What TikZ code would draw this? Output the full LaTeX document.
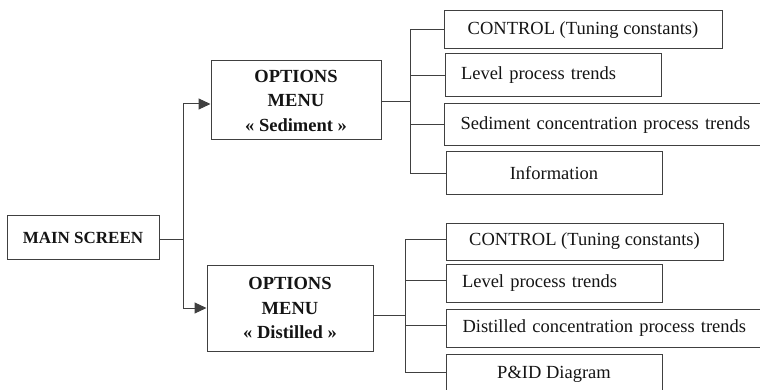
\documentclass[tikz,border=0pt]{standalone}
\usepackage{fontspec}
\setmainfont{Liberation Serif}
\usetikzlibrary{arrows.meta,calc}
\begin{document}
\begin{tikzpicture}[x=1pt,y=-1pt,
  box/.style={draw=black!75,line width=1pt,rectangle,inner sep=0pt,text=black!92,
    font=\fontsize{18.5}{21}\selectfont},
  lbox/.style={box,align=left,inner xsep=16pt},
  bbox/.style={box,align=center,font=\fontsize{18.5}{24.5}\selectfont\bfseries},
  conn/.style={draw=black!75,line width=1pt},
  arr/.style={conn,-{Triangle[length=12pt,width=11pt]}}]
\useasboundingbox (0,0) rectangle (760,390);
% main
\node[box,minimum width=152pt,minimum height=43pt,font=\fontsize{17}{20}\selectfont\bfseries] (main) at (83,237.5) {MAIN SCREEN};
\node[bbox,minimum width=170pt,minimum height=79pt] (sed) at (296,100.5) {OPTIONS\\MENU\\« Sediment »};
\node[bbox,minimum width=166pt,minimum height=86pt] (dist) at (290,308) {OPTIONS\\MENU\\« Distilled »};
% top group
\node[box,minimum width=278pt,minimum height=38pt] (t1) at (583,30) {CONTROL (Tuning constants)};
\node[lbox,text width=184pt,minimum height=43pt] (t2) at (553,75.5) {Level process trends};
\node[lbox,text width=320pt,minimum height=42pt,anchor=west] (t3) at (444,125) {Sediment concentration process trends};
\node[box,minimum width=216pt,minimum height=43pt] (t4) at (554,173.5) {Information};
% bottom group
\node[box,minimum width=277pt,minimum height=37pt] (b1) at (584.5,241.5) {CONTROL (Tuning constants)};
\node[lbox,text width=184pt,minimum height=38pt] (b2) at (554,283) {Level process trends};
\node[lbox,text width=320pt,minimum height=38pt,anchor=west] (b3) at (446,328) {Distilled concentration process trends};
\node[box,minimum width=216pt,minimum height=41pt] (b4) at (554,374.5) {P\&ID Diagram};
% junctions
\coordinate (jm) at (183,239);
\coordinate (js) at (410,102);
\coordinate (jd) at (405,315);
\draw[conn] (main.east |- jm) -- (jm);
\draw[arr] (jm) |- ([yshift=-3.5pt]sed.west);
\draw[arr] (jm) |- (dist.west);
% sediment fan
\draw[conn] (sed.east |- js) -- (js);
\draw[conn] (js |- t1.west) -- (js |- t4.west);
\foreach \n in {t1,t2,t3,t4} \draw[conn] (js |- \n.west) -- (\n.west);
% distilled fan
\draw[conn] (dist.east |- jd) -- (jd);
\draw[conn] ([yshift=2.5pt]jd |- b1.west) -- ([yshift=2.5pt]jd |- b4.west);
\foreach \n in {b1,b2,b3,b4} \draw[conn] ([yshift=2.5pt]jd |- \n.west) -- ([yshift=2.5pt]\n.west);
\end{tikzpicture}
\end{document}
